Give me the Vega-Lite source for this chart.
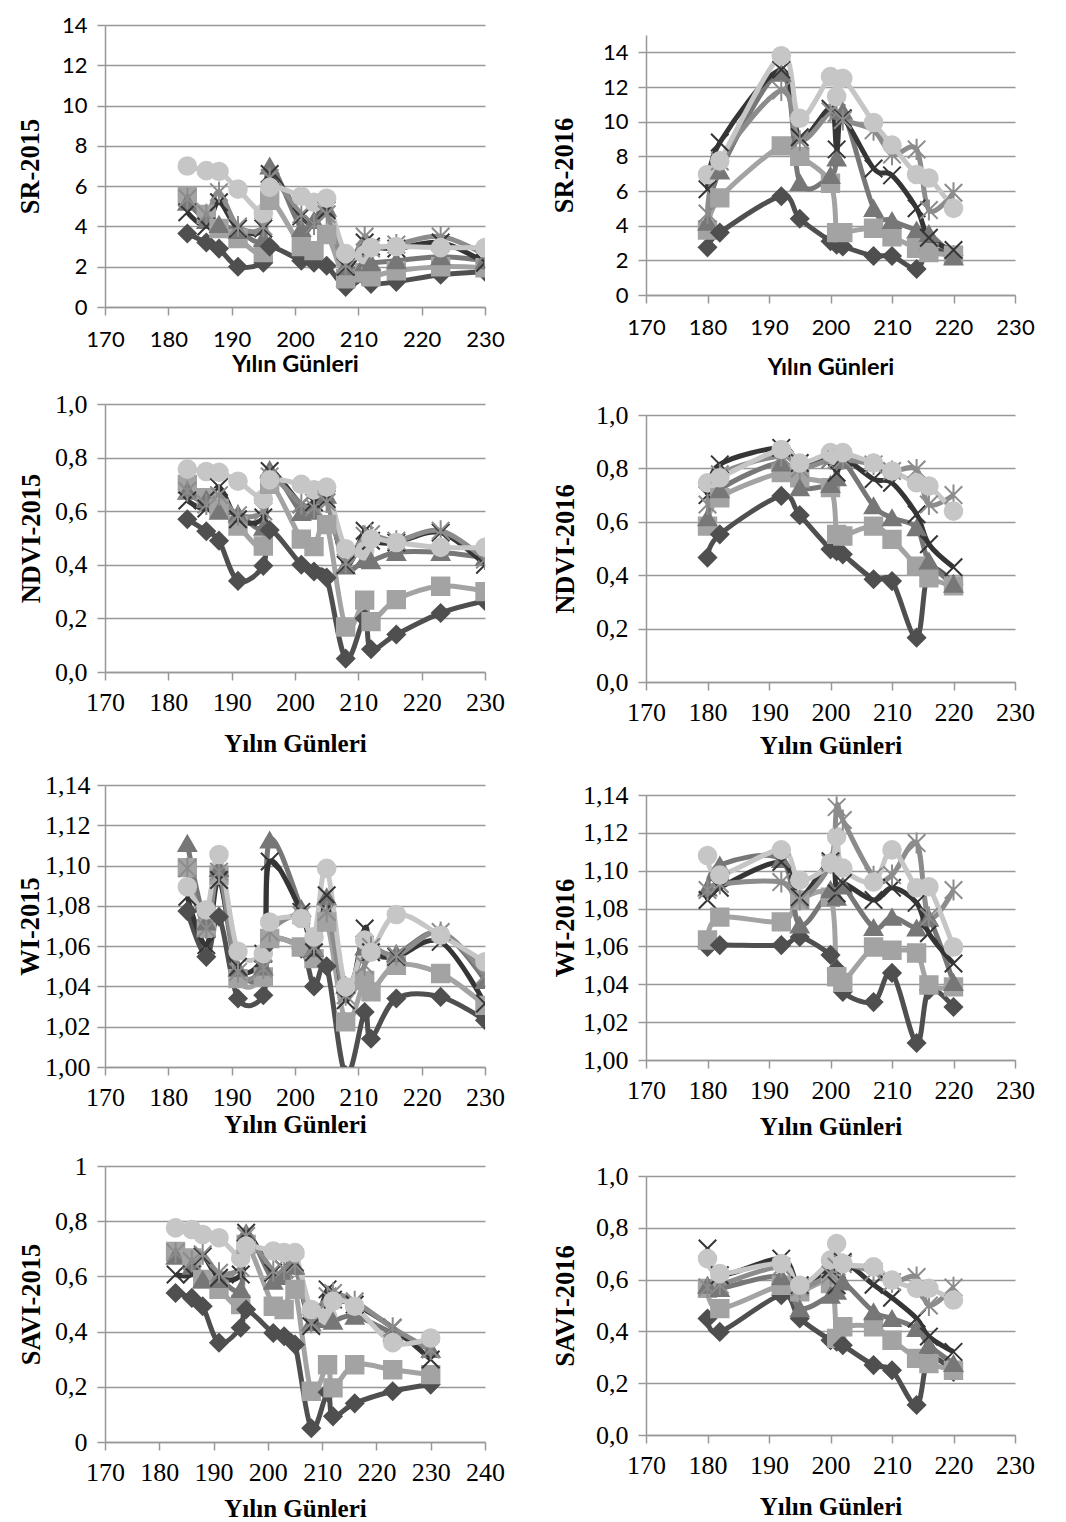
{
"$schema":"https://vega.github.io/schema/vega-lite/v6.json",
"padding":{"left":17,"top":14,"right":5,"bottom":2},
"background":"white",
"data":{"values":[
{"p":"SR15","d":183,"A":3.65,"B":5.5,"C":5.2,"D":4.7,"E":5.4,"F":7.0},
{"p":"SR15","d":186,"A":3.2,"B":4.6,"C":4.3,"D":4.0,"E":4.6,"F":6.77},
{"p":"SR15","d":188,"A":2.9,"B":3.9,"C":4.1,"D":5.2,"E":5.7,"F":6.73},
{"p":"SR15","d":191,"A":2.0,"B":3.4,"C":3.8,"D":3.9,"E":4.0,"F":5.85},
{"p":"SR15","d":195,"A":2.2,"B":2.7,"C":3.4,"D":3.9,"E":4.0,"F":4.65},
{"p":"SR15","d":196,"A":3.0,"B":5.3,"C":7.0,"D":6.6,"E":6.4,"F":5.94},
{"p":"SR15","d":201,"A":2.3,"B":3.0,"C":3.9,"D":4.5,"E":4.6,"F":5.5},
{"p":"SR15","d":203,"A":2.2,"B":2.8,"C":4.3,"D":4.1,"E":4.1,"F":5.2},
{"p":"SR15","d":205,"A":2.05,"B":3.6,"C":4.9,"D":4.8,"E":4.6,"F":5.4},
{"p":"SR15","d":208,"A":1.0,"B":1.4,"C":2.0,"D":2.0,"E":2.1,"F":2.65},
{"p":"SR15","d":211,"A":1.5,"B":1.7,"C":2.2,"D":3.2,"E":3.5,"F":2.6},
{"p":"SR15","d":212,"A":1.15,"B":1.5,"C":2.2,"D":3.0,"E":2.9,"F":2.95},
{"p":"SR15","d":216,"A":1.25,"B":1.8,"C":2.3,"D":2.9,"E":3.1,"F":3.0},
{"p":"SR15","d":223,"A":1.6,"B":2.0,"C":2.5,"D":3.2,"E":3.5,"F":2.95},
{"p":"SR15","d":230,"A":1.75,"B":1.95,"C":2.3,"D":2.2,"E":2.6,"F":2.95},
{"p":"SR16","d":180,"A":2.75,"B":3.75,"C":4.2,"D":6.1,"E":4.7,"F":6.95},
{"p":"SR16","d":182,"A":3.6,"B":5.6,"C":7.15,"D":8.8,"E":7.7,"F":7.74},
{"p":"SR16","d":192,"A":5.7,"B":8.6,"C":12.8,"D":13.0,"E":11.8,"F":13.8},
{"p":"SR16","d":195,"A":4.4,"B":8.0,"C":6.5,"D":9.1,"E":8.9,"F":10.2},
{"p":"SR16","d":200,"A":3.1,"B":6.45,"C":6.9,"D":10.75,"E":10.6,"F":12.6},
{"p":"SR16","d":201,"A":2.9,"B":3.6,"C":7.9,"D":8.4,"E":10.5,"F":11.45},
{"p":"SR16","d":202,"A":2.8,"B":3.6,"C":10.6,"D":10.2,"E":10.1,"F":12.5},
{"p":"SR16","d":207,"A":2.25,"B":3.85,"C":5.0,"D":7.3,"E":9.5,"F":9.95},
{"p":"SR16","d":210,"A":2.25,"B":3.35,"C":4.3,"D":6.9,"E":8.1,"F":8.65},
{"p":"SR16","d":214,"A":1.5,"B":2.7,"C":3.75,"D":5.0,"E":8.4,"F":6.95},
{"p":"SR16","d":216,"A":2.6,"B":2.45,"C":3.55,"D":3.3,"E":4.9,"F":6.75},
{"p":"SR16","d":220,"A":2.3,"B":2.3,"C":2.2,"D":2.6,"E":5.9,"F":5.0},
{"p":"ND15","d":183,"A":0.57,"B":0.70,"C":0.675,"D":0.64,"E":0.675,"F":0.757},
{"p":"ND15","d":186,"A":0.525,"B":0.65,"C":0.645,"D":0.61,"E":0.625,"F":0.748},
{"p":"ND15","d":188,"A":0.49,"B":0.61,"C":0.60,"D":0.69,"E":0.66,"F":0.745},
{"p":"ND15","d":191,"A":0.34,"B":0.545,"C":0.59,"D":0.57,"E":0.585,"F":0.712},
{"p":"ND15","d":195,"A":0.396,"B":0.47,"C":0.54,"D":0.577,"E":0.60,"F":0.645},
{"p":"ND15","d":196,"A":0.53,"B":0.70,"C":0.755,"D":0.75,"E":0.73,"F":0.717},
{"p":"ND15","d":201,"A":0.40,"B":0.496,"C":0.595,"D":0.626,"E":0.626,"F":0.70},
{"p":"ND15","d":203,"A":0.375,"B":0.468,"C":0.60,"D":0.633,"E":0.614,"F":0.68},
{"p":"ND15","d":205,"A":0.352,"B":0.55,"C":0.66,"D":0.645,"E":0.633,"F":0.69},
{"p":"ND15","d":208,"A":0.05,"B":0.168,"C":0.396,"D":0.40,"E":0.408,"F":0.46},
{"p":"ND15","d":211,"A":0.20,"B":0.268,"C":0.42,"D":0.527,"E":0.508,"F":0.452},
{"p":"ND15","d":212,"A":0.085,"B":0.188,"C":0.415,"D":0.49,"E":0.514,"F":0.496},
{"p":"ND15","d":216,"A":0.14,"B":0.27,"C":0.446,"D":0.483,"E":0.49,"F":0.483},
{"p":"ND15","d":223,"A":0.22,"B":0.32,"C":0.446,"D":0.52,"E":0.527,"F":0.465},
{"p":"ND15","d":230,"A":0.265,"B":0.30,"C":0.427,"D":0.40,"E":0.42,"F":0.465},
{"p":"ND16","d":180,"A":0.466,"B":0.584,"C":0.615,"D":0.70,"E":0.665,"F":0.746},
{"p":"ND16","d":182,"A":0.553,"B":0.69,"C":0.72,"D":0.815,"E":0.778,"F":0.765},
{"p":"ND16","d":192,"A":0.697,"B":0.784,"C":0.82,"D":0.877,"E":0.846,"F":0.871},
{"p":"ND16","d":195,"A":0.625,"B":0.765,"C":0.728,"D":0.82,"E":0.80,"F":0.82},
{"p":"ND16","d":200,"A":0.497,"B":0.728,"C":0.74,"D":0.834,"E":0.834,"F":0.859},
{"p":"ND16","d":201,"A":0.49,"B":0.553,"C":0.765,"D":0.784,"E":0.834,"F":0.846},
{"p":"ND16","d":202,"A":0.478,"B":0.547,"C":0.83,"D":0.84,"E":0.834,"F":0.859},
{"p":"ND16","d":207,"A":0.385,"B":0.584,"C":0.66,"D":0.76,"E":0.815,"F":0.82},
{"p":"ND16","d":210,"A":0.378,"B":0.534,"C":0.615,"D":0.746,"E":0.79,"F":0.79},
{"p":"ND16","d":214,"A":0.166,"B":0.434,"C":0.578,"D":0.628,"E":0.796,"F":0.746},
{"p":"ND16","d":216,"A":0.42,"B":0.39,"C":0.453,"D":0.516,"E":0.665,"F":0.734},
{"p":"ND16","d":220,"A":0.366,"B":0.36,"C":0.366,"D":0.43,"E":0.70,"F":0.64},
{"p":"WI15","d":183,"A":1.0774,"B":1.099,"C":1.111,"D":1.0845,"E":1.0986,"F":1.0895},
{"p":"WI15","d":186,"A":1.0547,"B":1.0688,"C":1.072,"D":1.0605,"E":1.0688,"F":1.078},
{"p":"WI15","d":188,"A":1.0746,"B":1.0953,"C":1.0986,"D":1.0928,"E":1.097,"F":1.1055},
{"p":"WI15","d":191,"A":1.034,"B":1.0439,"C":1.049,"D":1.0497,"E":1.0472,"F":1.0575},
{"p":"WI15","d":195,"A":1.0356,"B":1.0447,"C":1.0497,"D":1.0563,"E":1.0489,"F":1.0563},
{"p":"WI15","d":196,"A":1.062,"B":1.0638,"C":1.1127,"D":1.102,"E":1.067,"F":1.072},
{"p":"WI15","d":201,"A":1.0588,"B":1.0596,"C":1.0787,"D":1.077,"E":1.0754,"F":1.0737},
{"p":"WI15","d":203,"A":1.040,"B":1.0538,"C":1.0588,"D":1.057,"E":1.0596,"F":1.0646},
{"p":"WI15","d":205,"A":1.050,"B":1.072,"C":1.0845,"D":1.0853,"E":1.077,"F":1.0986},
{"p":"WI15","d":208,"A":0.996,"B":1.0224,"C":1.0406,"D":1.0331,"E":1.0356,"F":1.0398},
{"p":"WI15","d":211,"A":1.0273,"B":1.043,"C":1.0596,"D":1.0688,"E":1.0505,"F":1.063},
{"p":"WI15","d":212,"A":1.014,"B":1.0373,"C":1.058,"D":1.057,"E":1.0596,"F":1.057},
{"p":"WI15","d":216,"A":1.034,"B":1.0505,"C":1.0563,"D":1.0547,"E":1.0555,"F":1.0757},
{"p":"WI15","d":223,"A":1.0348,"B":1.0464,"C":1.067,"D":1.0621,"E":1.067,"F":1.0654},
{"p":"WI15","d":230,"A":1.0232,"B":1.0306,"C":1.043,"D":1.0315,"E":1.0456,"F":1.0522},
{"p":"WI16","d":180,"A":1.0597,"B":1.0634,"C":1.0909,"D":1.0845,"E":1.0898,"F":1.108},
{"p":"WI16","d":182,"A":1.0607,"B":1.0755,"C":1.103,"D":1.091,"E":1.093,"F":1.0977},
{"p":"WI16","d":192,"A":1.0607,"B":1.073,"C":1.106,"D":1.1046,"E":1.094,"F":1.111},
{"p":"WI16","d":195,"A":1.065,"B":1.0845,"C":1.0713,"D":1.086,"E":1.0845,"F":1.095},
{"p":"WI16","d":200,"A":1.0555,"B":1.086,"C":1.09,"D":1.105,"E":1.104,"F":1.104},
{"p":"WI16","d":201,"A":1.048,"B":1.044,"C":1.086,"D":1.088,"E":1.1336,"F":1.118},
{"p":"WI16","d":202,"A":1.036,"B":1.041,"C":1.092,"D":1.0935,"E":1.1268,"F":1.1014},
{"p":"WI16","d":207,"A":1.0306,"B":1.0597,"C":1.070,"D":1.0845,"E":1.097,"F":1.094},
{"p":"WI16","d":210,"A":1.046,"B":1.058,"C":1.0755,"D":1.091,"E":1.0977,"F":1.111},
{"p":"WI16","d":214,"A":1.009,"B":1.0565,"C":1.0697,"D":1.083,"E":1.1146,"F":1.091},
{"p":"WI16","d":216,"A":1.037,"B":1.0396,"C":1.075,"D":1.067,"E":1.0755,"F":1.0915},
{"p":"WI16","d":220,"A":1.028,"B":1.0386,"C":1.041,"D":1.051,"E":1.0898,"F":1.0597},
{"p":"SA15","d":183,"A":0.54,"B":0.69,"C":0.673,"D":0.607,"E":0.686,"F":0.776},
{"p":"SA15","d":186,"A":0.522,"B":0.667,"C":0.637,"D":0.607,"E":0.655,"F":0.77},
{"p":"SA15","d":188,"A":0.492,"B":0.589,"C":0.589,"D":0.673,"E":0.68,"F":0.752},
{"p":"SA15","d":191,"A":0.36,"B":0.553,"C":0.589,"D":0.595,"E":0.613,"F":0.74},
{"p":"SA15","d":195,"A":0.414,"B":0.498,"C":0.553,"D":0.607,"E":0.631,"F":0.667},
{"p":"SA15","d":196,"A":0.48,"B":0.716,"C":0.758,"D":0.758,"E":0.746,"F":0.71},
{"p":"SA15","d":201,"A":0.395,"B":0.492,"C":0.583,"D":0.613,"E":0.62,"F":0.692},
{"p":"SA15","d":203,"A":0.383,"B":0.48,"C":0.60,"D":0.625,"E":0.625,"F":0.686},
{"p":"SA15","d":205,"A":0.353,"B":0.553,"C":0.637,"D":0.65,"E":0.643,"F":0.686},
{"p":"SA15","d":208,"A":0.05,"B":0.184,"C":0.432,"D":0.42,"E":0.432,"F":0.48},
{"p":"SA15","d":211,"A":0.18,"B":0.28,"C":0.444,"D":0.553,"E":0.528,"F":0.456},
{"p":"SA15","d":212,"A":0.093,"B":0.196,"C":0.438,"D":0.516,"E":0.54,"F":0.51},
{"p":"SA15","d":216,"A":0.14,"B":0.28,"C":0.456,"D":0.498,"E":0.51,"F":0.492},
{"p":"SA15","d":223,"A":0.184,"B":0.262,"C":0.395,"D":0.414,"E":0.414,"F":0.36},
{"p":"SA15","d":230,"A":0.208,"B":0.244,"C":0.335,"D":0.299,"E":0.335,"F":0.377},
{"p":"SA16","d":180,"A":0.45,"B":0.566,"C":0.578,"D":0.72,"E":0.57,"F":0.681},
{"p":"SA16","d":182,"A":0.398,"B":0.488,"C":0.566,"D":0.617,"E":0.58,"F":0.623},
{"p":"SA16","d":192,"A":0.54,"B":0.578,"C":0.611,"D":0.681,"E":0.65,"F":0.662},
{"p":"SA16","d":195,"A":0.45,"B":0.553,"C":0.488,"D":0.578,"E":0.57,"F":0.578},
{"p":"SA16","d":200,"A":0.366,"B":0.585,"C":0.54,"D":0.64,"E":0.62,"F":0.675},
{"p":"SA16","d":201,"A":0.36,"B":0.373,"C":0.555,"D":0.578,"E":0.65,"F":0.739},
{"p":"SA16","d":202,"A":0.347,"B":0.418,"C":0.591,"D":0.668,"E":0.66,"F":0.662},
{"p":"SA16","d":207,"A":0.27,"B":0.418,"C":0.476,"D":0.58,"E":0.63,"F":0.649},
{"p":"SA16","d":210,"A":0.25,"B":0.366,"C":0.45,"D":0.53,"E":0.59,"F":0.598},
{"p":"SA16","d":214,"A":0.116,"B":0.296,"C":0.411,"D":0.45,"E":0.61,"F":0.566},
{"p":"SA16","d":216,"A":0.296,"B":0.276,"C":0.347,"D":0.38,"E":0.50,"F":0.566},
{"p":"SA16","d":220,"A":0.244,"B":0.25,"C":0.276,"D":0.321,"E":0.57,"F":0.521}
]},
"transform":[{"fold":["A","B","C","D","E","F"],"as":["s","v"]}],
"hconcat":[
{"vconcat":[
{"width":380,"height":282,"transform":[{"filter":"datum.p==='SR15'"}],
 "encoding":{
  "x":{"field":"d","type":"quantitative","scale":{"domain":[170,230],"nice":false,"zero":false},"axis":{"values":[170,180,190,200,210,220,230],"title":"Yılın Günleri","labelFont":"Lato","labelFontSize":22,"titleFont":"Lato","titleFontSize":23.5,"labelPadding":14,"titlePadding":2}},
  "y":{"field":"v","type":"quantitative","scale":{"domain":[0,14],"nice":false,"zero":false},"axis":{"values":[0,2,4,6,8,10,12,14],"format":"d","title":"SR-2015","labelFont":"Lato","labelFontSize":22,"titlePadding":17}}},
 "layer":[
  {"mark":{"type":"line","interpolate":"cardinal","clip":true},"encoding":{"color":{"field":"s","type":"nominal","scale":{"domain":["A","B","C","D","E","F"],"range":["#4f4f4f","#a3a3a3","#777777","#353535","#8c8c8c","#c6c6c6"]},"legend":null},"strokeWidth":{"field":"s","type":"ordinal","scale":{"domain":["A","B","C","D","E","F"],"range":[5,5,5,3.5,5,5]},"legend":null}}},
  {"mark":{"type":"point","filled":true,"clip":true,"strokeWidth":2,"opacity":1},"encoding":{"shape":{"field":"s","type":"nominal","scale":{"domain":["A","B","C","D","E","F"],"range":["diamond","square","triangle-up","M-1,-1L1,1M1,-1L-1,1","M-1,-1L1,1M1,-1L-1,1M0,-1.2L0,1.2","circle"]},"legend":null},"fill":{"field":"s","type":"nominal","scale":{"domain":["A","B","C","D","E","F"],"range":["#4f4f4f","#a3a3a3","#777777","#353535","#8c8c8c","#c6c6c6"]},"legend":null},"stroke":{"field":"s","type":"nominal","scale":{"domain":["A","B","C","D","E","F"],"range":["#4f4f4f","#a3a3a3","#777777","#353535","#8c8c8c","#c6c6c6"]},"legend":null},"size":{"field":"s","type":"ordinal","scale":{"domain":["A","B","C","D","E","F"],"range":[300,310,380,320,320,430]},"legend":null}}}
 ]},
{"width":380,"height":268,"transform":[{"filter":"datum.p==='ND15'"}],
 "encoding":{
  "x":{"field":"d","type":"quantitative","scale":{"domain":[170,230],"nice":false,"zero":false},"axis":{"values":[170,180,190,200,210,220,230],"title":"Yılın Günleri","titlePadding":16.5}},
  "y":{"field":"v","type":"quantitative","scale":{"domain":[0,1],"nice":false,"zero":false},"axis":{"values":[0,0.2,0.4,0.6,0.8,1],"format":".1f","title":"NDVI-2015","titlePadding":9.5}}},
 "layer":[
  {"mark":{"type":"line","interpolate":"cardinal","clip":true},"encoding":{"color":{"field":"s","type":"nominal","scale":{"domain":["A","B","C","D","E","F"],"range":["#4f4f4f","#a3a3a3","#777777","#353535","#8c8c8c","#c6c6c6"]},"legend":null},"strokeWidth":{"field":"s","type":"ordinal","scale":{"domain":["A","B","C","D","E","F"],"range":[5,5,5,3.5,5,5]},"legend":null}}},
  {"mark":{"type":"point","filled":true,"clip":true,"strokeWidth":2,"opacity":1},"encoding":{"shape":{"field":"s","type":"nominal","scale":{"domain":["A","B","C","D","E","F"],"range":["diamond","square","triangle-up","M-1,-1L1,1M1,-1L-1,1","M-1,-1L1,1M1,-1L-1,1M0,-1.2L0,1.2","circle"]},"legend":null},"fill":{"field":"s","type":"nominal","scale":{"domain":["A","B","C","D","E","F"],"range":["#4f4f4f","#a3a3a3","#777777","#353535","#8c8c8c","#c6c6c6"]},"legend":null},"stroke":{"field":"s","type":"nominal","scale":{"domain":["A","B","C","D","E","F"],"range":["#4f4f4f","#a3a3a3","#777777","#353535","#8c8c8c","#c6c6c6"]},"legend":null},"size":{"field":"s","type":"ordinal","scale":{"domain":["A","B","C","D","E","F"],"range":[300,310,380,320,320,430]},"legend":null}}}
 ]},
{"width":380,"height":282,"transform":[{"filter":"datum.p==='WI15'"}],
 "encoding":{
  "x":{"field":"d","type":"quantitative","scale":{"domain":[170,230],"nice":false,"zero":false},"axis":{"values":[170,180,190,200,210,220,230],"title":"Yılın Günleri","titlePadding":2.5}},
  "y":{"field":"v","type":"quantitative","scale":{"domain":[1,1.14],"nice":false,"zero":false},"axis":{"values":[1,1.02,1.04,1.06,1.08,1.1,1.12,1.14],"format":".2f","title":"WI-2015","titlePadding":0,"labelPadding":7}}},
 "layer":[
  {"mark":{"type":"line","interpolate":"cardinal","clip":true},"encoding":{"color":{"field":"s","type":"nominal","scale":{"domain":["A","B","C","D","E","F"],"range":["#4f4f4f","#a3a3a3","#777777","#353535","#8c8c8c","#c6c6c6"]},"legend":null},"strokeWidth":{"field":"s","type":"ordinal","scale":{"domain":["A","B","C","D","E","F"],"range":[5,5,5,3.5,5,5]},"legend":null}}},
  {"mark":{"type":"point","filled":true,"clip":true,"strokeWidth":2,"opacity":1},"encoding":{"shape":{"field":"s","type":"nominal","scale":{"domain":["A","B","C","D","E","F"],"range":["diamond","square","triangle-up","M-1,-1L1,1M1,-1L-1,1","M-1,-1L1,1M1,-1L-1,1M0,-1.2L0,1.2","circle"]},"legend":null},"fill":{"field":"s","type":"nominal","scale":{"domain":["A","B","C","D","E","F"],"range":["#4f4f4f","#a3a3a3","#777777","#353535","#8c8c8c","#c6c6c6"]},"legend":null},"stroke":{"field":"s","type":"nominal","scale":{"domain":["A","B","C","D","E","F"],"range":["#4f4f4f","#a3a3a3","#777777","#353535","#8c8c8c","#c6c6c6"]},"legend":null},"size":{"field":"s","type":"ordinal","scale":{"domain":["A","B","C","D","E","F"],"range":[300,310,380,320,320,430]},"legend":null}}}
 ]},
{"width":380,"height":276,"transform":[{"filter":"datum.p==='SA15'"}],
 "encoding":{
  "x":{"field":"d","type":"quantitative","scale":{"domain":[170,240],"nice":false,"zero":false},"axis":{"values":[170,180,190,200,210,220,230,240],"title":"Yılın Günleri","titlePadding":11.5}},
  "y":{"field":"v","type":"quantitative","scale":{"domain":[0,1],"nice":false,"zero":false},"axis":{"values":[0,0.2,0.4,0.6,0.8,1],"format":"~g","title":"SAVI-2015","titlePadding":9.5}}},
 "layer":[
  {"mark":{"type":"line","interpolate":"cardinal","clip":true},"encoding":{"color":{"field":"s","type":"nominal","scale":{"domain":["A","B","C","D","E","F"],"range":["#4f4f4f","#a3a3a3","#777777","#353535","#8c8c8c","#c6c6c6"]},"legend":null},"strokeWidth":{"field":"s","type":"ordinal","scale":{"domain":["A","B","C","D","E","F"],"range":[5,5,5,3.5,5,5]},"legend":null}}},
  {"mark":{"type":"point","filled":true,"clip":true,"strokeWidth":2,"opacity":1},"encoding":{"shape":{"field":"s","type":"nominal","scale":{"domain":["A","B","C","D","E","F"],"range":["diamond","square","triangle-up","M-1,-1L1,1M1,-1L-1,1","M-1,-1L1,1M1,-1L-1,1M0,-1.2L0,1.2","circle"]},"legend":null},"fill":{"field":"s","type":"nominal","scale":{"domain":["A","B","C","D","E","F"],"range":["#4f4f4f","#a3a3a3","#777777","#353535","#8c8c8c","#c6c6c6"]},"legend":null},"stroke":{"field":"s","type":"nominal","scale":{"domain":["A","B","C","D","E","F"],"range":["#4f4f4f","#a3a3a3","#777777","#353535","#8c8c8c","#c6c6c6"]},"legend":null},"size":{"field":"s","type":"ordinal","scale":{"domain":["A","B","C","D","E","F"],"range":[300,310,380,320,320,430]},"legend":null}}}
 ]}
],"spacing":15},
{"vconcat":[
{"width":369,"height":1,"data":{"values":[]},"mark":{"type":"point","opacity":0},"encoding":{}},
{"vconcat":[
{"width":369,"height":260,"transform":[{"filter":"datum.p==='SR16'"}],
 "encoding":{
  "x":{"field":"d","type":"quantitative","scale":{"domain":[170,230],"nice":false,"zero":false},"axis":{"values":[170,180,190,200,210,220,230],"title":"Yılın Günleri","labelFont":"Lato","labelFontSize":22,"titleFont":"Lato","titleFontSize":23.5,"labelPadding":14,"titlePadding":17.5}},
  "y":{"field":"v","type":"quantitative","scale":{"domain":[0,15],"nice":false,"zero":false},"axis":{"values":[0,2,4,6,8,10,12,14],"format":"d","title":"SR-2016","labelFont":"Lato","labelFontSize":22,"titlePadding":23.5}}},
 "layer":[
  {"mark":{"type":"line","interpolate":"cardinal","clip":true},"encoding":{"color":{"field":"s","type":"nominal","scale":{"domain":["A","B","C","D","E","F"],"range":["#4f4f4f","#a3a3a3","#777777","#353535","#8c8c8c","#c6c6c6"]},"legend":null},"strokeWidth":{"field":"s","type":"ordinal","scale":{"domain":["A","B","C","D","E","F"],"range":[5,5,5,3.5,5,5]},"legend":null}}},
  {"mark":{"type":"point","filled":true,"clip":true,"strokeWidth":2,"opacity":1},"encoding":{"shape":{"field":"s","type":"nominal","scale":{"domain":["A","B","C","D","E","F"],"range":["diamond","square","triangle-up","M-1,-1L1,1M1,-1L-1,1","M-1,-1L1,1M1,-1L-1,1M0,-1.2L0,1.2","circle"]},"legend":null},"fill":{"field":"s","type":"nominal","scale":{"domain":["A","B","C","D","E","F"],"range":["#4f4f4f","#a3a3a3","#777777","#353535","#8c8c8c","#c6c6c6"]},"legend":null},"stroke":{"field":"s","type":"nominal","scale":{"domain":["A","B","C","D","E","F"],"range":["#4f4f4f","#a3a3a3","#777777","#353535","#8c8c8c","#c6c6c6"]},"legend":null},"size":{"field":"s","type":"ordinal","scale":{"domain":["A","B","C","D","E","F"],"range":[300,310,380,320,320,430]},"legend":null}}}
 ]},
{"width":369,"height":267,"transform":[{"filter":"datum.p==='ND16'"}],
 "encoding":{
  "x":{"field":"d","type":"quantitative","scale":{"domain":[170,230],"nice":false,"zero":false},"axis":{"values":[170,180,190,200,210,220,230],"title":"Yılın Günleri","titlePadding":8.5}},
  "y":{"field":"v","type":"quantitative","scale":{"domain":[0,1],"nice":false,"zero":false},"axis":{"values":[0,0.2,0.4,0.6,0.8,1],"format":".1f","title":"NDVI-2016","titlePadding":16.5}}},
 "layer":[
  {"mark":{"type":"line","interpolate":"cardinal","clip":true},"encoding":{"color":{"field":"s","type":"nominal","scale":{"domain":["A","B","C","D","E","F"],"range":["#4f4f4f","#a3a3a3","#777777","#353535","#8c8c8c","#c6c6c6"]},"legend":null},"strokeWidth":{"field":"s","type":"ordinal","scale":{"domain":["A","B","C","D","E","F"],"range":[5,5,5,3.5,5,5]},"legend":null}}},
  {"mark":{"type":"point","filled":true,"clip":true,"strokeWidth":2,"opacity":1},"encoding":{"shape":{"field":"s","type":"nominal","scale":{"domain":["A","B","C","D","E","F"],"range":["diamond","square","triangle-up","M-1,-1L1,1M1,-1L-1,1","M-1,-1L1,1M1,-1L-1,1M0,-1.2L0,1.2","circle"]},"legend":null},"fill":{"field":"s","type":"nominal","scale":{"domain":["A","B","C","D","E","F"],"range":["#4f4f4f","#a3a3a3","#777777","#353535","#8c8c8c","#c6c6c6"]},"legend":null},"stroke":{"field":"s","type":"nominal","scale":{"domain":["A","B","C","D","E","F"],"range":["#4f4f4f","#a3a3a3","#777777","#353535","#8c8c8c","#c6c6c6"]},"legend":null},"size":{"field":"s","type":"ordinal","scale":{"domain":["A","B","C","D","E","F"],"range":[300,310,380,320,320,430]},"legend":null}}}
 ]},
{"width":369,"height":265,"transform":[{"filter":"datum.p==='WI16'"}],
 "encoding":{
  "x":{"field":"d","type":"quantitative","scale":{"domain":[170,230],"nice":false,"zero":false},"axis":{"values":[170,180,190,200,210,220,230],"title":"Yılın Günleri","titlePadding":11.5}},
  "y":{"field":"v","type":"quantitative","scale":{"domain":[1,1.14],"nice":false,"zero":false},"axis":{"values":[1,1.02,1.04,1.06,1.08,1.1,1.12,1.14],"format":".2f","title":"WI-2016","titlePadding":3.5}}},
 "layer":[
  {"mark":{"type":"line","interpolate":"cardinal","clip":true},"encoding":{"color":{"field":"s","type":"nominal","scale":{"domain":["A","B","C","D","E","F"],"range":["#4f4f4f","#a3a3a3","#777777","#353535","#8c8c8c","#c6c6c6"]},"legend":null},"strokeWidth":{"field":"s","type":"ordinal","scale":{"domain":["A","B","C","D","E","F"],"range":[5,5,5,3.5,5,5]},"legend":null}}},
  {"mark":{"type":"point","filled":true,"clip":true,"strokeWidth":2,"opacity":1},"encoding":{"shape":{"field":"s","type":"nominal","scale":{"domain":["A","B","C","D","E","F"],"range":["diamond","square","triangle-up","M-1,-1L1,1M1,-1L-1,1","M-1,-1L1,1M1,-1L-1,1M0,-1.2L0,1.2","circle"]},"legend":null},"fill":{"field":"s","type":"nominal","scale":{"domain":["A","B","C","D","E","F"],"range":["#4f4f4f","#a3a3a3","#777777","#353535","#8c8c8c","#c6c6c6"]},"legend":null},"stroke":{"field":"s","type":"nominal","scale":{"domain":["A","B","C","D","E","F"],"range":["#4f4f4f","#a3a3a3","#777777","#353535","#8c8c8c","#c6c6c6"]},"legend":null},"size":{"field":"s","type":"ordinal","scale":{"domain":["A","B","C","D","E","F"],"range":[300,310,380,320,320,430]},"legend":null}}}
 ]},
{"width":369,"height":259,"transform":[{"filter":"datum.p==='SA16'"}],
 "encoding":{
  "x":{"field":"d","type":"quantitative","scale":{"domain":[170,230],"nice":false,"zero":false},"axis":{"values":[170,180,190,200,210,220,230],"title":"Yılın Günleri","titlePadding":16.5}},
  "y":{"field":"v","type":"quantitative","scale":{"domain":[0,1],"nice":false,"zero":false},"axis":{"values":[0,0.2,0.4,0.6,0.8,1],"format":".1f","title":"SAVI-2016","titlePadding":16.5}}},
 "layer":[
  {"mark":{"type":"line","interpolate":"cardinal","clip":true},"encoding":{"color":{"field":"s","type":"nominal","scale":{"domain":["A","B","C","D","E","F"],"range":["#4f4f4f","#a3a3a3","#777777","#353535","#8c8c8c","#c6c6c6"]},"legend":null},"strokeWidth":{"field":"s","type":"ordinal","scale":{"domain":["A","B","C","D","E","F"],"range":[5,5,5,3.5,5,5]},"legend":null}}},
  {"mark":{"type":"point","filled":true,"clip":true,"strokeWidth":2,"opacity":1},"encoding":{"shape":{"field":"s","type":"nominal","scale":{"domain":["A","B","C","D","E","F"],"range":["diamond","square","triangle-up","M-1,-1L1,1M1,-1L-1,1","M-1,-1L1,1M1,-1L-1,1M0,-1.2L0,1.2","circle"]},"legend":null},"fill":{"field":"s","type":"nominal","scale":{"domain":["A","B","C","D","E","F"],"range":["#4f4f4f","#a3a3a3","#777777","#353535","#8c8c8c","#c6c6c6"]},"legend":null},"stroke":{"field":"s","type":"nominal","scale":{"domain":["A","B","C","D","E","F"],"range":["#4f4f4f","#a3a3a3","#777777","#353535","#8c8c8c","#c6c6c6"]},"legend":null},"size":{"field":"s","type":"ordinal","scale":{"domain":["A","B","C","D","E","F"],"range":[300,310,380,320,320,430]},"legend":null}}}
 ]}
],"spacing":23}
],"spacing":9}
],
"spacing":46,
"config":{
 "locale":{"number":{"decimal":",","thousands":".","grouping":[3],"currency":["","€"]}},
 "view":{"stroke":null},
 "axis":{"domainColor":"#989898","domainWidth":1.5,"tickColor":"#989898","tickWidth":1.5,"tickSize":8,"gridColor":"#989898","gridWidth":1.5,"labelColor":"#000000","titleColor":"#000000","labelFont":"Liberation Serif","labelFontSize":26,"titleFont":"Liberation Serif","titleFontSize":25,"titleFontWeight":"bold","labelPadding":9,"labelOverlap":false,"labelFlush":false},
 "axisY":{"grid":true,"titleFontSize":26.5,"labelPadding":10},
 "axisX":{"grid":false}
}
}
